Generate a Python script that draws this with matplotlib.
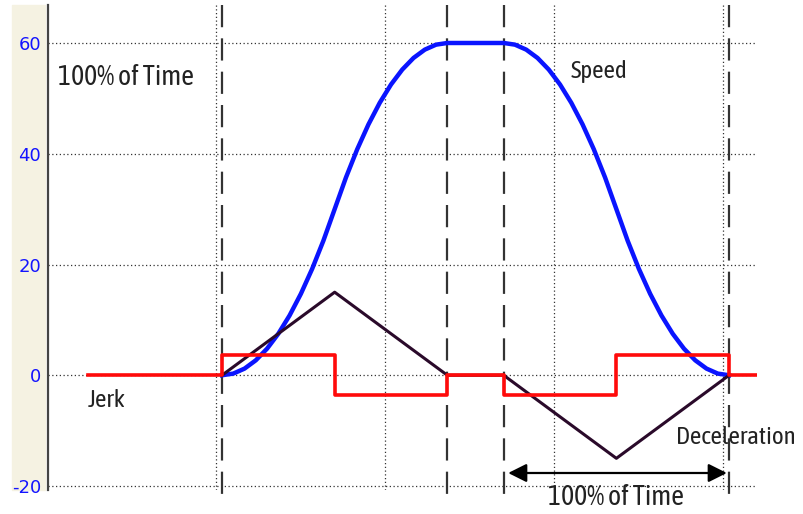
import numpy as np
import matplotlib.pyplot as plt

# jerk: step levels, each held until the next breakpoint
jerk_t = [-1.19, 0.0, 1.0, 2.0, 2.5, 3.5, 4.5, 4.74]
jerk_v = [0.0, 3.6, -3.6, 0.0, -3.6, 3.6, 0.0, 0.0]

# acceleration / deceleration triangles
accel_t = [0.0, 1.0, 2.0, 2.5, 3.5, 4.5]
accel_v = [0.0, 15.0, 0.0, 0.0, -15.0, 0.0]

# speed
speed_t = [0.0, 0.1, 0.2, 0.3, 0.4, 0.5, 0.6, 0.7, 0.8, 0.9, 1.0,
           1.1, 1.2, 1.3, 1.4, 1.5, 1.6, 1.7, 1.8, 1.9, 2.0,
           2.5, 2.6, 2.7, 2.8, 2.9, 3.0, 3.1, 3.2, 3.3, 3.4, 3.5,
           3.6, 3.7, 3.8, 3.9, 4.0, 4.1, 4.2, 4.3, 4.4, 4.5]
speed_v = [0.0, 0.3, 1.2, 2.7, 4.8, 7.5, 10.8, 14.7, 19.2, 24.3, 30.0,
           35.7, 40.8, 45.3, 49.2, 52.5, 55.2, 57.3, 58.8, 59.7, 60.0,
           60.0, 59.7, 58.8, 57.3, 55.2, 52.5, 49.2, 45.3, 40.8, 35.7, 30.0,
           24.3, 19.2, 14.7, 10.8, 7.5, 4.8, 2.7, 1.2, 0.3, 0.0]

phase_marks = [0.0, 2.0, 2.5, 4.5]
grid_x = [-0.053, 1.447, 2.947, 4.447]
yticks = [60, 40, 20, 0, -20]

fig = plt.figure(figsize=(8.04, 5.14), dpi=100)
# pale strip behind the tick labels
fig.patches.append(plt.Rectangle((12/804, 24/514), 33/804, 485/514,
                                 transform=fig.transFigure, color='#f5f2e2', zorder=-5))
ax = fig.add_axes([48/804, 24/514, 709/804, 485/514])
ax.set_zorder(2)
ax.patch.set_alpha(0)
ax.set_xlim(-1.544, 4.748)
ax.set_ylim(-20.72, 66.86)

for s in ['top', 'right', 'bottom']:
    ax.spines[s].set_visible(False)
ax.spines['left'].set_color('#444444')
ax.spines['left'].set_linewidth(1.6)

ax.set_xticks([])
ax.set_yticks(yticks)
ax.set_yticklabels([str(v) for v in yticks])
ax.tick_params(axis='y', length=0, pad=5, labelsize=13, labelcolor='#1414ff')

dotted = (0, (1, 2))
for yv in yticks:
    ax.axhline(yv, color='#333333', lw=0.9, ls=dotted, zorder=1)
for xv in grid_x:
    ax.axvline(xv, color='#333333', lw=0.9, ls=dotted, zorder=1)

for xv in phase_marks:
    ax.plot([xv, xv], [66.86, -22.5], color='#333333', lw=1.6,
            dashes=(10, 5), clip_on=False, zorder=2)

ax.plot(speed_t, speed_v, color='#0a14ff', lw=3.2, zorder=4, solid_joinstyle='round')
ax.plot(accel_t, accel_v, color='#2a0a2a', lw=2.2, zorder=5)
ax.plot(jerk_t, jerk_v, color='#ff0a0a', lw=2.6, drawstyle='steps-post', zorder=6)

ax.annotate('', xy=(4.48, -17.65), xytext=(2.54, -17.65),
            arrowprops=dict(arrowstyle='<|-|>', color='black', lw=1.6,
                            mutation_scale=28, shrinkA=0, shrinkB=0))

font = ['Asap Condensed', 'Archivo Narrow', 'DejaVu Sans']
tc = '#222222'
ax.text(-1.456, 53.7, '100% of Time', fontsize=20, family=font, color=tc, va='center')
ax.text(3.09, 54.8, 'Speed', fontsize=18, family=font, color=tc, va='center')
ax.text(-1.19, -4.6, 'Jerk', fontsize=18, family=font, color=tc, va='center')
ax.text(4.03, -11.3, 'Deceleration', fontsize=18, family=font, color=tc, va='center')
ax.text(2.89, -22.0, '100% of Time', fontsize=20, family=font, color=tc, va='center')

fig.savefig('out.png', dpi=100)
